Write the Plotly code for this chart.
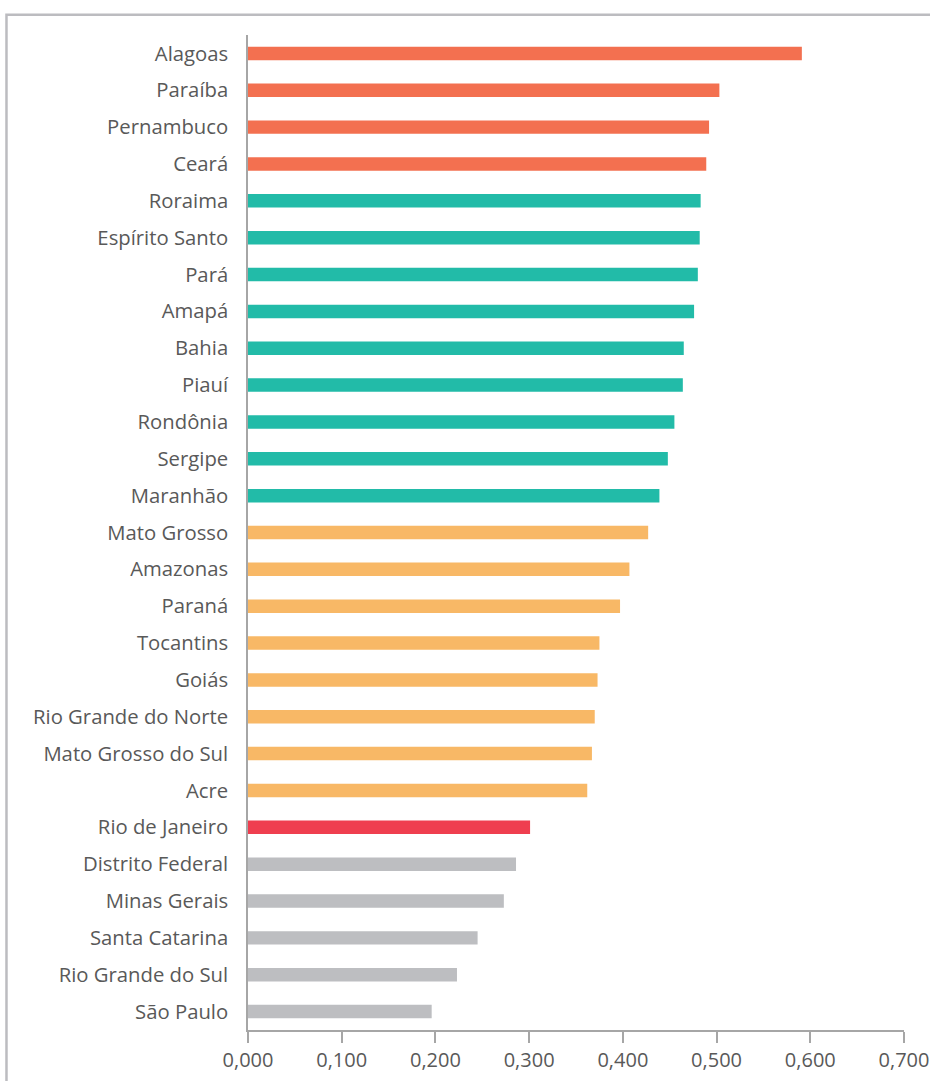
import plotly.graph_objects as go

# estados, de cima para baixo
estados = [
    "Alagoas", "Paraíba", "Pernambuco", "Ceará", "Roraima", "Espírito Santo",
    "Pará", "Amapá", "Bahia", "Piauí", "Rondônia", "Sergipe", "Maranhão",
    "Mato Grosso", "Amazonas", "Paraná", "Tocantins", "Goiás",
    "Rio Grande do Norte", "Mato Grosso do Sul", "Acre", "Rio de Janeiro",
    "Distrito Federal", "Minas Gerais", "Santa Catarina", "Rio Grande do Sul",
    "São Paulo",
]
valores = [
    0.591, 0.503, 0.492, 0.489, 0.483, 0.482,
    0.480, 0.476, 0.465, 0.464, 0.455, 0.448, 0.439,
    0.427, 0.407, 0.397, 0.375, 0.373,
    0.370, 0.367, 0.362, 0.301,
    0.286, 0.273, 0.245, 0.223,
    0.196,
]
grupos = ["alto"] * 4 + ["medio_alto"] * 9 + ["medio"] * 8 + ["rj"] + ["baixo"] * 5

cores_grupo = {
    "alto": "#F37050",
    "medio_alto": "#22BBA8",
    "medio": "#F8B866",
    "rj": "#EF3E4F",
    "baixo": "#BDBEC1",
}
cores = [cores_grupo[g] for g in grupos]

W, H = 930, 1081
ml, mr, mt, mb = 248.3, 26.3, 35, 51
pw, ph = W - ml - mr, H - mt - mb

fig = go.Figure(go.Bar(
    x=valores, y=estados, orientation="h",
    marker=dict(color=cores, line=dict(width=0)),
    hoverinfo="skip",
))

# moldura cinza em volta do gráfico (direita e baixo ficam fora da imagem)
fig.add_shape(
    type="rect", xref="paper", yref="paper",
    x0=(7 - ml) / pw, x1=1.5,
    y0=-0.3, y1=(H - mb - 14.7) / ph,
    line=dict(color="#BCBCC0", width=2.5),
    layer="below",
)

fig.update_layout(
    width=W, height=H,
    margin=dict(l=ml, r=mr, t=mt, b=mb),
    paper_bgcolor="white", plot_bgcolor="white",
    bargap=0.634,
    separators=", ",
    showlegend=False,
    font=dict(family="Open Sans", size=20, color="#595959"),
)
fig.update_xaxes(
    range=[0, 0.7], dtick=0.1, tickformat=".3f",
    showgrid=False, zeroline=False, automargin=False,
    showline=True, linecolor="#A6A6A6", linewidth=1.5,
    ticks="outside", ticklen=11, tickcolor="#A6A6A6", tickwidth=1.5,
    tickfont=dict(size=20, color="#595959"),
    ticklabeloverflow="allow",
)
fig.update_yaxes(
    categoryorder="array", categoryarray=estados[::-1],
    showgrid=False, zeroline=False, automargin=False,
    showline=True, linecolor="#A6A6A6", linewidth=1.5,
    ticks="", ticklabelstandoff=14,
    tickfont=dict(size=20.3, color="#595959"),
)

# tira a margem padrão do body para a figura ocupar a janela toda
fig.write_html(
    "out.html",
    config={"displayModeBar": False},
    post_script="document.body.style.margin='0';document.body.style.overflow='hidden';",
)
